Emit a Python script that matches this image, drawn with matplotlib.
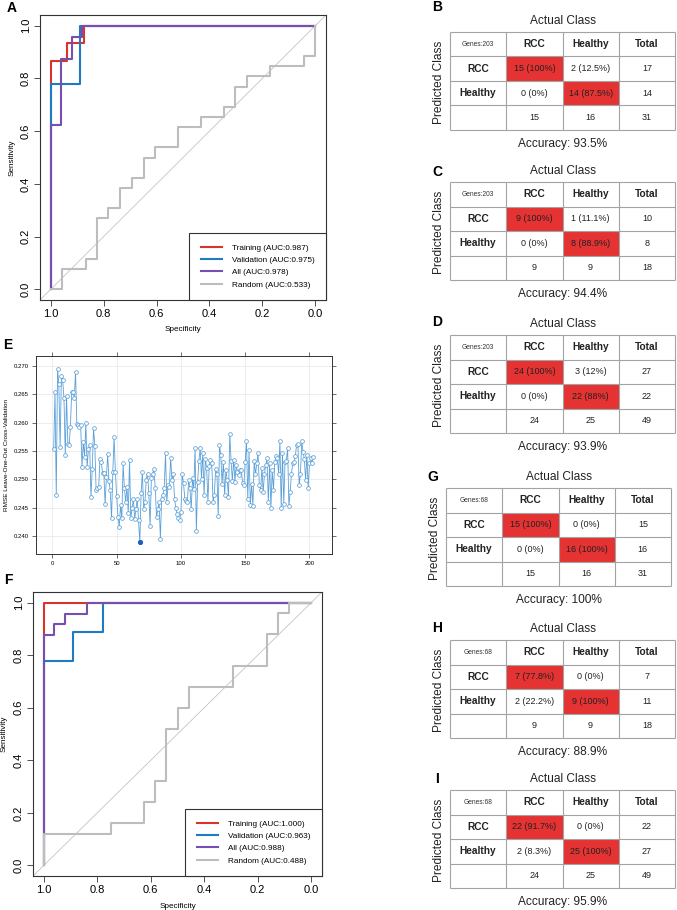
import numpy as np
import matplotlib
matplotlib.use("Agg")
import matplotlib.pyplot as plt
from matplotlib.patches import Rectangle

plt.rcParams['font.family'] = ['Liberation Sans', 'DejaVu Sans']

# ---------------- ROC curves: corner points (specificity, sensitivity) ----------------
# panel A  (203 genes)
A_train_spec = [1.0, 0.9375, 0.875, 0.0]
A_train_sens = [0.0, 0.867, 0.933, 1.0]
A_valid_spec = [1.0, 0.889, 0.0]
A_valid_sens = [0.0, 0.778, 1.0]
A_all_spec = [1.0, 0.96, 0.92, 0.88, 0.0]
A_all_sens = [0.0, 0.625, 0.875, 0.958, 1.0]
A_rand_spec = [1.0, 0.958, 0.867, 0.825, 0.782, 0.738, 0.693, 0.649, 0.607,
               0.52, 0.433, 0.347, 0.302, 0.259, 0.17, 0.043, 0.0, 0.0]
A_rand_sens = [0.0, 0.0, 0.077, 0.115, 0.269, 0.308, 0.385, 0.423, 0.5,
               0.538, 0.615, 0.654, 0.692, 0.769, 0.808, 0.846, 0.885, 1.0]
A_auc = [0.987, 0.975, 0.978, 0.533]

# panel F  (68 genes)
F_train_spec = [1.0, 0.0]
F_train_sens = [0.0, 1.0]
F_valid_spec = [1.0, 0.889, 0.778, 0.0]
F_valid_sens = [0.0, 0.778, 0.889, 1.0]
F_all_spec = [1.0, 0.96, 0.92, 0.84, 0.0]
F_all_sens = [0.0, 0.875, 0.917, 0.958, 1.0]
F_rand_spec = [1.0, 0.75, 0.625, 0.583, 0.542, 0.5, 0.458, 0.292, 0.167, 0.125, 0.083, 0.0]
F_rand_sens = [0.0, 0.12, 0.16, 0.24, 0.32, 0.52, 0.6, 0.68, 0.76, 0.88, 0.96, 1.0]
F_auc = [1.000, 0.963, 0.988, 0.488]

curve_names = ['Training', 'Validation', 'All', 'Random']
curve_colors = ['#d7352b', '#1f7ac4', '#7650b0', '#bdbdbd']

# ---------------- panel E: RMSE (LOOCV) vs number of genes ----------------
rmse = [
    0.2553, 0.2654, 0.2472, 0.2695, 0.2668, 0.2557, 0.2683, 0.2675, 0.2643, 0.2543,
    0.2648, 0.2563, 0.2561, 0.2593, 0.2654, 0.2655, 0.2643, 0.2690, 0.2597, 0.2596,
    0.2593, 0.2596, 0.2521, 0.2566, 0.2540, 0.2600, 0.2521, 0.2553, 0.2560, 0.2469,
    0.2519, 0.2590, 0.2559, 0.2481, 0.2484, 0.2486, 0.2536, 0.2531, 0.2512, 0.2512,
    0.2456, 0.2504, 0.2544, 0.2497, 0.2481, 0.2431, 0.2513, 0.2575, 0.2513, 0.2470,
    0.2434, 0.2416, 0.2454, 0.2431, 0.2528, 0.2484, 0.2460, 0.2487, 0.2440, 0.2535,
    0.2431, 0.2449, 0.2465, 0.2430, 0.2447, 0.2466, 0.2428, 0.2389, 0.2475, 0.2513,
    0.2447, 0.2460, 0.2499, 0.2510, 0.2475, 0.2418, 0.2502, 0.2510, 0.2519, 0.2484,
    0.2434, 0.2447, 0.2460, 0.2395, 0.2466, 0.2472, 0.2485, 0.2546, 0.2460, 0.2490,
    0.2487, 0.2538, 0.2499, 0.2510, 0.2466, 0.2449, 0.2438, 0.2431, 0.2428, 0.2442,
    0.2509, 0.2493, 0.2466, 0.2462, 0.2460, 0.2499, 0.2484, 0.2447, 0.2502, 0.2483,
    0.2555, 0.2408, 0.2496, 0.2533, 0.2555, 0.2500, 0.2547, 0.2472, 0.2536, 0.2520,
    0.2460, 0.2524, 0.2534, 0.2528, 0.2460, 0.2472, 0.2519, 0.2510, 0.2435, 0.2560,
    0.2543, 0.2491, 0.2531, 0.2472, 0.2516, 0.2499, 0.2469, 0.2581, 0.2533, 0.2497,
    0.2535, 0.2496, 0.2526, 0.2513, 0.2507, 0.2517, 0.2516, 0.2493, 0.2490, 0.2531,
    0.2567, 0.2465, 0.2551, 0.2454, 0.2491, 0.2453, 0.2533, 0.2509, 0.2528, 0.2546,
    0.2490, 0.2481, 0.2520, 0.2477, 0.2510, 0.2525, 0.2537, 0.2460, 0.2528, 0.2449,
    0.2517, 0.2481, 0.2531, 0.2541, 0.2537, 0.2510, 0.2567, 0.2449, 0.2546, 0.2457,
    0.2531, 0.2533, 0.2555, 0.2453, 0.2478, 0.2510, 0.2528, 0.2530, 0.2541, 0.2561,
    0.2563, 0.2490, 0.2510, 0.2567, 0.2549, 0.2536, 0.2499, 0.2543, 0.2484, 0.2528,
    0.2537, 0.2529, 0.2540,
]
n_genes = np.arange(1, len(rmse) + 1)
E_xticks = [0, 50, 100, 150, 200]
E_yticks = [0.240, 0.245, 0.250, 0.255, 0.260, 0.265, 0.270]

# ---------------- confusion matrices ----------------
class_names = ['RCC', 'Healthy']
table_letters = ['B', 'C', 'D', 'G', 'H', 'I']
table_genes = [203, 203, 203, 68, 68, 68]
table_counts = [
    [[15, 2], [0, 14]],
    [[9, 1], [0, 8]],
    [[24, 3], [0, 22]],
    [[15, 0], [0, 16]],
    [[7, 0], [2, 9]],
    [[22, 0], [2, 25]],
]

W, H = 677, 910
fig = plt.figure(figsize=(W / 100, H / 100), dpi=100)


def px_axes(l, t, r, b):
    return fig.add_axes([l / W, 1 - b / H, (r - l) / W, (b - t) / H])


def fmt(p):
    s = f"{p:.1f}"
    return s[:-2] if s.endswith('.0') else s


def roc_panel(ax, curves, aucs, lab_y, lab_x):
    ax.axline((1, 0), (0, 1), color='#c4c4c4', lw=0.6, zorder=1)
    for (sp, se), name, auc, col in zip(curves, curve_names, aucs, curve_colors):
        ax.plot(sp, se, drawstyle='steps-pre', color=col, lw=1.5,
                label=f"{name} (AUC:{auc:.3f})", zorder=2)
    ax.set_xlim(1.04, -0.04)
    ax.set_ylim(-0.04, 1.04)
    ticks = [0, 0.2, 0.4, 0.6, 0.8, 1.0]
    ax.set_xticks(ticks)
    ax.set_yticks(ticks)
    ax.set_xticklabels([f"{t:.1f}" for t in ticks])
    ax.set_yticklabels([f"{t:.1f}" for t in ticks], rotation=90, va='center')
    ax.tick_params(labelsize=8, length=4, width=0.6, pad=2.5, color='#333333')
    for s in ax.spines.values():
        s.set_linewidth(0.8)
        s.set_color('#333333')
    ax.text(0.5, lab_y, 'Specificity', transform=ax.transAxes, ha='center',
            va='center', fontsize=5.9)
    ax.text(lab_x, 0.5, 'Sensitivity', transform=ax.transAxes, ha='center',
            va='center', fontsize=5.9, rotation=90)
    leg = ax.legend(loc='lower right', bbox_to_anchor=(1, 0), borderaxespad=0,
                    fontsize=5.9, frameon=True, fancybox=False, framealpha=1,
                    edgecolor='#333333', borderpad=1.4, handlelength=2.6,
                    handletextpad=1.2, labelspacing=0.55)
    leg.get_frame().set_linewidth(0.8)


# panel A
axA = px_axes(40, 15, 326, 300)
roc_panel(axA, [(A_train_spec, A_train_sens), (A_valid_spec, A_valid_sens),
                (A_all_spec, A_all_sens), (A_rand_spec, A_rand_sens)], A_auc,
          -0.105, -0.098)
fig.text(12 / W, 1 - 8 / H, 'A', fontsize=10, fontweight='bold', ha='center', va='center')

# panel F
axF = px_axes(33, 592, 322, 876)
roc_panel(axF, [(F_train_spec, F_train_sens), (F_valid_spec, F_valid_sens),
                (F_all_spec, F_all_sens), (F_rand_spec, F_rand_sens)], F_auc,
          -0.106, -0.100)
fig.text(8 / W, 1 - 580 / H, 'F', fontsize=10, fontweight='bold', ha='center', va='center')

# panel E
axE = px_axes(35.7, 356, 331.7, 554)
line_col = '#5a9fd8'
axE.plot(n_genes, rmse, color=line_col, lw=0.6, marker='o', markersize=2.7,
         markerfacecolor='white', markeredgecolor=line_col, markeredgewidth=0.55)
best = int(np.argmin(rmse))
axE.plot(n_genes[best], rmse[best], 'o', color='#1f5fbf', markersize=2.7)
axE.set_xlim(-13, 217.3)
axE.set_ylim(0.2368, 0.2718)
axE.set_xticks(E_xticks)
axE.set_yticks(E_yticks)
axE.set_yticklabels([f"{v:.3f}" for v in E_yticks])
axE.grid(True, color='#e6e6e6', lw=0.5)
axE.set_axisbelow(True)
axE.tick_params(labelsize=4.3, length=3, width=0.5, pad=2, top=True, right=True,
                direction='out', color='#333333')
for s in axE.spines.values():
    s.set_linewidth(0.7)
    s.set_color('#333333')
axE.text(-0.1, 0.5, 'RMSE Leave-One-Out Cross-Validation', transform=axE.transAxes,
         rotation=90, ha='center', va='center', fontsize=4.6)
fig.text(8 / W, 1 - 345 / H, 'E', fontsize=10, fontweight='bold', ha='center', va='center')

# confusion tables
table_pos = [(450, 32), (450, 182), (450, 335), (446, 488), (450, 640), (450, 790)]
letter_y = [7, 172, 322, 477, 628, 779]
tw, th = 225, 98
red = '#e53232'
grid_col = '#a3a3a3'

for letter, genes, counts, (tl, tt), ly in zip(table_letters, table_genes, table_counts,
                                               table_pos, letter_y):
    cm = np.array(counts)
    row_tot = cm.sum(axis=1)
    col_tot = cm.sum(axis=0)
    total = cm.sum()
    acc = np.trace(cm) / total * 100

    ax = px_axes(tl, tt, tl + tw, tt + th)
    ax.set_xlim(0, 4)
    ax.set_ylim(4, 0)
    ax.axis('off')
    for i in range(2):
        ax.add_patch(Rectangle((1 + i, 1 + i), 1, 1, color=red, lw=0, zorder=1))
    ax.hlines(range(5), 0, 4, color=grid_col, lw=0.8, zorder=2, clip_on=False)
    ax.vlines(range(5), 0, 4, color=grid_col, lw=0.8, zorder=2, clip_on=False)

    ax.text(0.5, 0.5, f"Genes:{genes}", ha='center', va='center', fontsize=4.8, color='#333333')
    for j, name in enumerate(class_names + ['Total']):
        ax.text(1.5 + j, 0.5, name, ha='center', va='center', fontsize=7.3,
                fontweight='bold', color='#222222')
    for i, name in enumerate(class_names):
        ax.text(0.5, 1.5 + i, name, ha='center', va='center', fontsize=7.3,
                fontweight='bold', color='#222222')
        for j in range(2):
            pct = cm[i, j] / col_tot[j] * 100
            ax.text(1.5 + j, 1.5 + i, f"{cm[i, j]} ({fmt(pct)}%)", ha='center',
                    va='center', fontsize=6.5, color='#222222', zorder=3)
        ax.text(3.5, 1.5 + i, str(row_tot[i]), ha='center', va='center',
                fontsize=6.5, color='#222222')
    for j in range(2):
        ax.text(1.5 + j, 3.5, str(col_tot[j]), ha='center', va='center',
                fontsize=6.5, color='#222222')
    ax.text(3.5, 3.5, str(total), ha='center', va='center', fontsize=6.5, color='#222222')

    cx = (tl + tw / 2) / W
    fig.text(cx, 1 - (tt - 11) / H, 'Actual Class', ha='center', va='center',
             fontsize=8.6, color='#222222')
    fig.text((tl - 11) / W, 1 - (tt + 50) / H, 'Predicted Class', ha='center',
             va='center', rotation=90, fontsize=8.6, color='#222222')
    fig.text(cx, 1 - (tt + 112) / H, f"Accuracy: {fmt(acc)}%", ha='center',
             va='center', fontsize=8.6, color='#222222')
    fig.text((tl - 13) / W, 1 - ly / H, letter, ha='center', va='center',
             fontsize=10, fontweight='bold')

fig.savefig('out.png', dpi=100)
